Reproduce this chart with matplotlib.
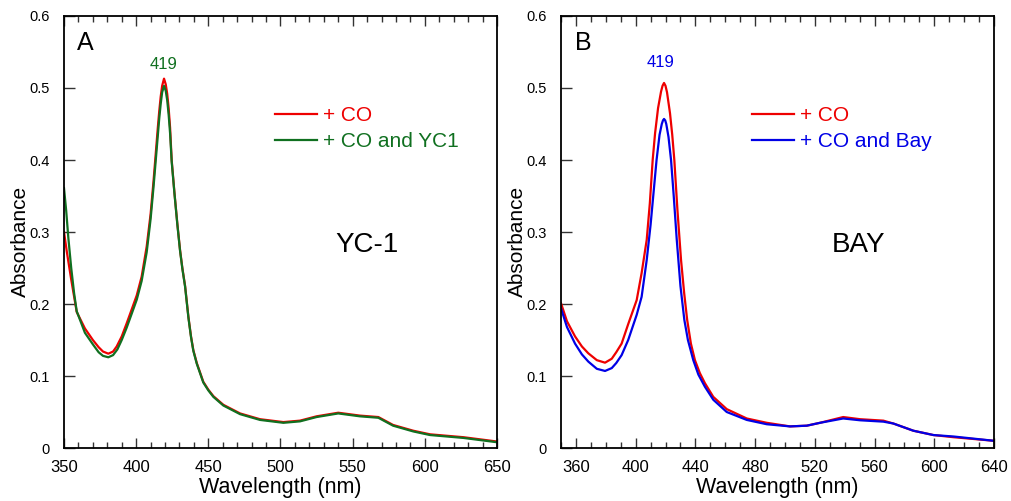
"""
Absorbance spectra of CO-bound heme with YC-1 / BAY
"""

import numpy as np
import matplotlib
matplotlib.use("Agg")
import matplotlib.pyplot as plt
from matplotlib.ticker import MultipleLocator, FuncFormatter

plt.rcParams['font.family'] = ['Liberation Sans', 'DejaVu Sans']

# colours
RED = '#ee0000'
GREEN = '#107020'
BLUE = '#0000e6'

# Panel A data ================================================================
wl_a_co = [350, 352, 355, 358.8, 364.5, 370, 374, 377, 380.7, 384, 386.5,
           390, 393.4, 397, 400.4, 403.8, 407.3, 410, 412, 413, 414, 415,
           416, 417, 418, 419.3, 420.5, 421.5, 422.5, 423.5, 424.6, 426.5,
           428.5, 430.4, 432, 433.9, 436.2, 438, 439.6, 442, 446.5, 450,
           453.5, 460.4, 472, 485.8, 502, 513.5, 525, 540, 555, 567.8, 578,
           592, 603.6, 626.7, 650]
abs_a_co = [0.300, 0.272, 0.234, 0.189, 0.166, 0.150, 0.140, 0.134, 0.131,
            0.134, 0.141, 0.155, 0.173, 0.193, 0.212, 0.238, 0.280, 0.325,
            0.370, 0.395, 0.420, 0.445, 0.468, 0.488, 0.503, 0.513, 0.505,
            0.492, 0.472, 0.445, 0.400, 0.355, 0.312, 0.275, 0.250, 0.225,
            0.182, 0.155, 0.136, 0.118, 0.092, 0.081, 0.072, 0.060, 0.048,
            0.040, 0.036, 0.038, 0.044, 0.049, 0.045, 0.043, 0.032, 0.024,
            0.019, 0.015, 0.009]

wl_a_yc1 = [350, 351.5, 353, 355, 357, 358.8, 364.5, 370, 374, 377, 380.7,
            384, 387, 390, 393.4, 397, 400.4, 403.8, 407.3, 410, 412, 413,
            414, 415, 416, 417, 418, 419.3, 420.5, 421.5, 422.5, 423.5, 424.6,
            426.5, 428.5, 430.4, 432, 433.9, 436.2, 438, 439.6, 442, 446.5,
            450, 453.5, 460.4, 472, 485.8, 502, 513.5, 525, 540, 555, 567.8,
            578, 592, 603.6, 626.7, 650]
abs_a_yc1 = [0.361, 0.330, 0.292, 0.250, 0.215, 0.190, 0.160, 0.144, 0.133,
             0.128, 0.126, 0.129, 0.137, 0.150, 0.167, 0.187, 0.206, 0.232,
             0.272, 0.318, 0.362, 0.386, 0.410, 0.434, 0.458, 0.478, 0.494,
             0.503, 0.496, 0.483, 0.463, 0.437, 0.398, 0.354, 0.311, 0.274,
             0.249, 0.224, 0.181, 0.154, 0.135, 0.117, 0.091, 0.080, 0.071,
             0.059, 0.047, 0.039, 0.035, 0.037, 0.043, 0.048, 0.044, 0.042,
             0.031, 0.023, 0.018, 0.014, 0.008]

# Panel B data ================================================================
wl_b_co = [350, 354, 359.4, 364, 368.3, 374, 379.5, 384, 387, 390.6, 395,
           400.7, 404, 407.4, 409.5, 411.4, 413, 415, 417, 418, 419, 420,
           421, 423, 424.5, 425.9, 428, 430.4, 432.5, 434.5, 437, 439.7, 443,
           446.4, 452, 461, 474.4, 487.8, 503.4, 514.6, 523.5, 539, 550.3,
           565.9, 572.6, 586, 599.4, 612.8, 640]
abs_b_co = [0.201, 0.176, 0.155, 0.141, 0.1315, 0.122, 0.1185, 0.124, 0.133,
            0.145, 0.172, 0.2055, 0.243, 0.289, 0.340, 0.400, 0.437, 0.472,
            0.495, 0.503, 0.507, 0.503, 0.494, 0.465, 0.435, 0.400, 0.330,
            0.261, 0.215, 0.178, 0.145, 0.122, 0.104, 0.090, 0.071, 0.054,
            0.041, 0.035, 0.030, 0.031, 0.035, 0.043, 0.040, 0.038, 0.034,
            0.024, 0.018, 0.015, 0.010]

wl_b_bay = [350, 354, 359.4, 364, 368.3, 374, 379.5, 384, 387, 390.6, 395,
            400.7, 404, 407.4, 410, 412, 414, 416, 417.5, 418.3, 419, 419.8,
            420.5, 422, 423.7, 425.5, 427.5, 430, 432.6, 435, 438.6, 442,
            446.4, 452, 461, 474.4, 487.8, 503.4, 514.6, 523.5, 539, 550.3,
            565.9, 572.6, 586, 599.4, 612.8, 640]
abs_b_bay = [0.194, 0.168, 0.145, 0.130, 0.120, 0.110, 0.107, 0.111, 0.118,
             0.129, 0.150, 0.185, 0.210, 0.261, 0.310, 0.355, 0.400, 0.435,
             0.450, 0.455, 0.457, 0.455, 0.450, 0.432, 0.400, 0.350, 0.290,
             0.225, 0.178, 0.150, 0.122, 0.102, 0.085, 0.067, 0.050, 0.039,
             0.033, 0.030, 0.031, 0.035, 0.041, 0.0385, 0.0366, 0.034,
             0.024, 0.018, 0.016, 0.010]

PEAK_LABEL = '419'


def main():

    # create figure
    fig = plt.figure(figsize=(10.11, 5.01), dpi=100)
    ax_a = fig.add_axes([64 / 1011, 53 / 501, 433 / 1011, 432 / 501])
    ax_b = fig.add_axes([561 / 1011, 53 / 501, 433 / 1011, 432 / 501])

    # Panel A ==================================================================
    ax_a.plot(wl_a_co, abs_a_co, color=RED, lw=1.6, label='+ CO')
    ax_a.plot(wl_a_yc1, abs_a_yc1, color=GREEN, lw=1.6, label='+ CO and YC1')
    ax_a.set_xlim(350, 650)
    ax_a.xaxis.set_major_locator(MultipleLocator(50))
    ax_a.xaxis.set_minor_locator(MultipleLocator(10))
    ax_a.text(419, 0.532, PEAK_LABEL, color=GREEN, fontsize=12,
              ha='center', va='center')
    ax_a.text(0.03, 0.965, 'A', transform=ax_a.transAxes, fontsize=18,
              ha='left', va='top')
    ax_a.text(0.70, 0.47, 'YC-1', transform=ax_a.transAxes, fontsize=20,
              ha='center', va='center')

    # Panel B ==================================================================
    ax_b.plot(wl_b_co, abs_b_co, color=RED, lw=1.6, label='+ CO')
    ax_b.plot(wl_b_bay, abs_b_bay, color=BLUE, lw=1.6, label='+ CO and Bay')
    ax_b.set_xlim(350, 640)
    ax_b.set_xticks(np.arange(360, 641, 40))
    ax_b.xaxis.set_minor_locator(MultipleLocator(10))
    ax_b.text(417, 0.535, PEAK_LABEL, color=BLUE, fontsize=12,
              ha='center', va='center')
    ax_b.text(0.032, 0.965, 'B', transform=ax_b.transAxes, fontsize=18,
              ha='left', va='top')
    ax_b.text(0.688, 0.47, 'BAY', transform=ax_b.transAxes, fontsize=20,
              ha='center', va='center')

    # label and adjust plots ===================================================
    for ax, lx in zip([ax_a, ax_b], [0.487, 0.441]):
        ax.set_ylim(0, 0.6)
        ax.yaxis.set_major_locator(MultipleLocator(0.1))
        ax.yaxis.set_major_formatter(
            FuncFormatter(lambda v, p: '0' if abs(v) < 1e-9 else f'{v:.1f}'))
        ax.set_xlabel('Wavelength (nm)', fontsize=15.5, labelpad=1)
        ax.set_ylabel('Absorbance', fontsize=15, labelpad=0, y=0.479)
        ax.tick_params(axis='x', which='both', direction='in', top=True,
                       bottom=True, labelsize=12, pad=9, color='#333333')
        ax.tick_params(axis='x', which='major', length=7, width=1)
        ax.tick_params(axis='x', which='minor', length=4, width=1)
        ax.tick_params(axis='y', which='major', direction='in', length=8,
                       width=1, labelsize=10.5, pad=10, right=False,
                       color='#333333')
        for side in ax.spines.values():
            side.set_linewidth(1.3)
        ax.legend(loc='upper left', bbox_to_anchor=(lx, 0.792),
                  frameon=False, fontsize=15, handlelength=2.0,
                  handletextpad=0.3, labelspacing=0.35, borderpad=0,
                  borderaxespad=0, labelcolor='linecolor')

    # save figure
    fig.savefig('out.png', dpi=100)


if __name__ == "__main__":
    main()
